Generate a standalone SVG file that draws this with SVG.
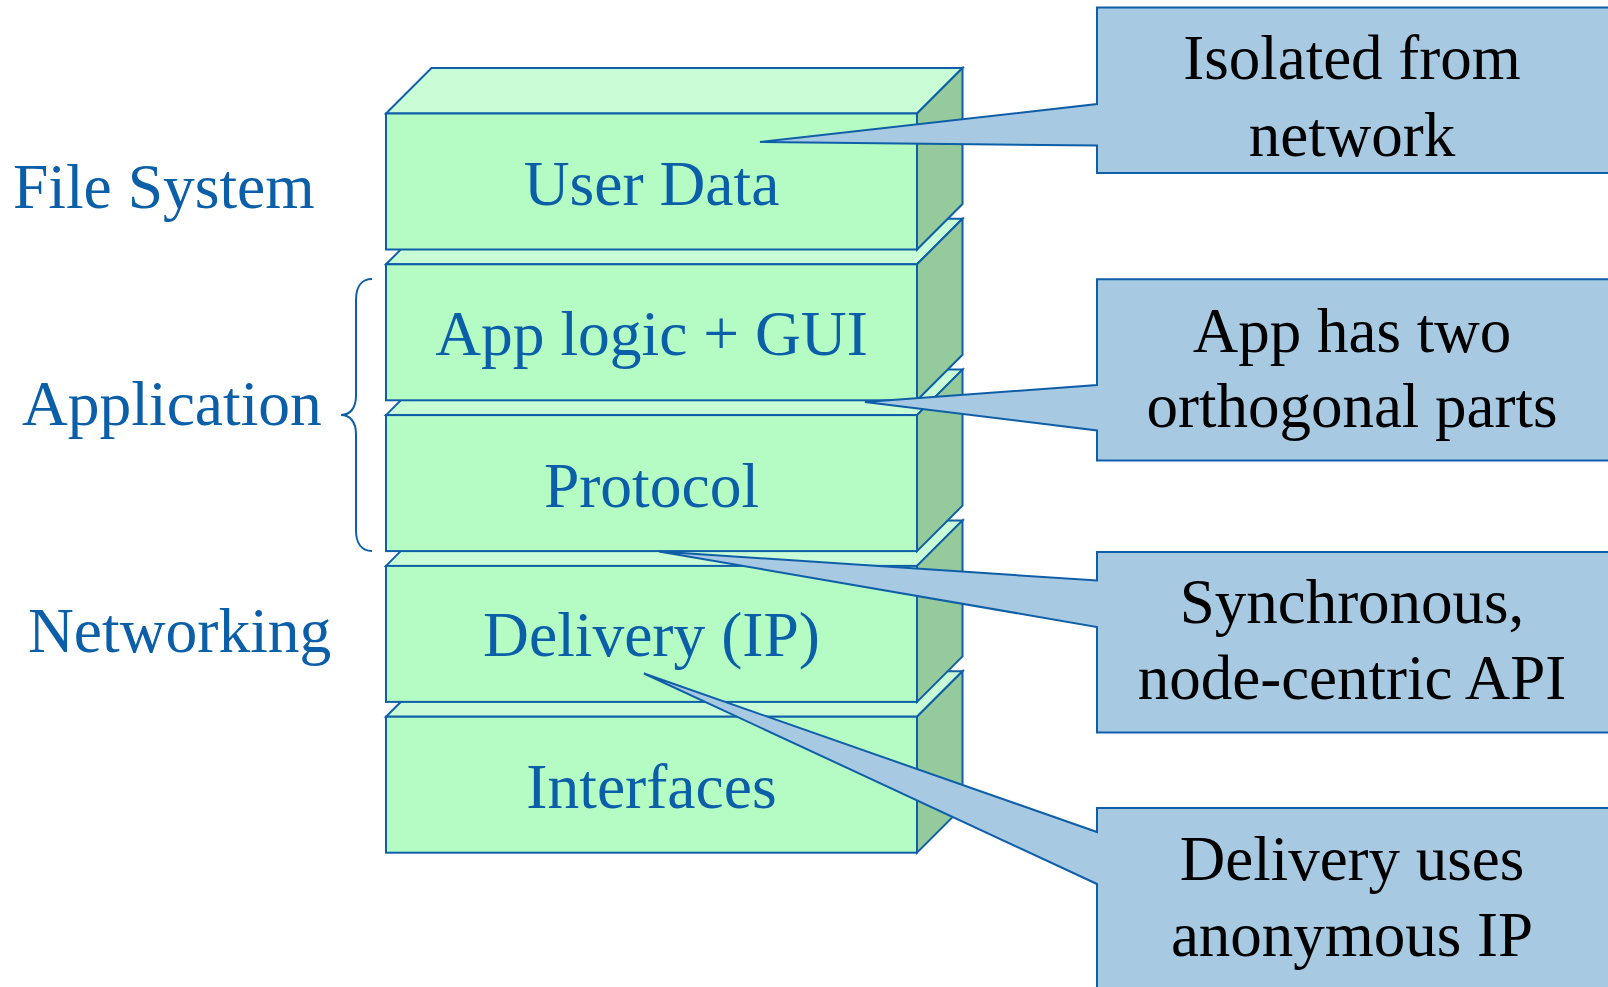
<svg xmlns="http://www.w3.org/2000/svg" width="1608" height="987" viewBox="0 0 1608 987">
<style>
.front{fill:#b5fcc4;stroke:#0f5fa8;stroke-width:2;stroke-linejoin:miter}
.top{fill:#c8fdd5;stroke:#0f5fa8;stroke-width:2}
.side{fill:#95ca9c;stroke:#0f5fa8;stroke-width:2}
.lbl{font-family:"Liberation Serif","Times New Roman",serif;font-size:63.5px;fill:#0b5fa8}
.ctext{font-family:"Liberation Serif","Times New Roman",serif;font-size:63px;fill:#000;text-anchor:middle}
.mid{text-anchor:middle}
.callout{fill:#a7c9e2;stroke:#0f5fa8;stroke-width:2;stroke-linejoin:miter}
.brace{fill:none;stroke:#0f5fa8;stroke-width:2}
</style>
<rect width="1608" height="987" fill="#fff"/>

<g id="layer-interfaces">
<polygon class="top" points="386,716.7 431.5,671.2 962.5,671.2 917,716.7"/>
<polygon class="side" points="917,716.7 962.5,671.2 962.5,807.2 917,852.7"/>
<rect class="front" x="386" y="716.7" width="531" height="136"/>
<text class="lbl mid" x="651.5" y="808">Interfaces</text>
</g>
<g id="layer-delivery">
<polygon class="top" points="386,565.9 431.5,520.4 962.5,520.4 917,565.9"/>
<polygon class="side" points="917,565.9 962.5,520.4 962.5,656.4 917,701.9"/>
<rect class="front" x="386" y="565.9" width="531" height="136"/>
<text class="lbl mid" x="651.5" y="656">Delivery (IP)</text>
</g>
<g id="layer-protocol">
<polygon class="top" points="386,415.1 431.5,369.6 962.5,369.6 917,415.1"/>
<polygon class="side" points="917,415.1 962.5,369.6 962.5,505.6 917,551.1"/>
<rect class="front" x="386" y="415.1" width="531" height="136"/>
<text class="lbl mid" x="651.5" y="506.5">Protocol</text>
</g>
<g id="layer-app">
<polygon class="top" points="386,264.3 431.5,218.8 962.5,218.8 917,264.3"/>
<polygon class="side" points="917,264.3 962.5,218.8 962.5,354.8 917,400.3"/>
<rect class="front" x="386" y="264.3" width="531" height="136"/>
<text class="lbl mid" x="651.5" y="354.5">App logic + GUI</text>
</g>
<g id="layer-userdata">
<polygon class="top" points="386,113.5 431.5,68 962.5,68 917,113.5"/>
<polygon class="side" points="917,113.5 962.5,68 962.5,204 917,249.5"/>
<rect class="front" x="386" y="113.5" width="531" height="136"/>
<text class="lbl mid" x="651.5" y="204.5">User Data</text>
</g>

<g id="side-labels">
<text class="lbl" x="13" y="208.3">File System</text>
<text class="lbl" x="22" y="425">Application</text>
<text class="lbl" x="28" y="651.7">Networking</text>
<path class="brace" d="M372,279 C362,279 356,286 356,300 L356,396 C356,408 350,415 341,415 C350,415 356,422 356,434 L356,530 C356,544 362,551 372,551"/>
</g>

<g id="connectors">
<g id="callout-isolated">
<path class="callout" d="M1097,7.5 H1620 V173 H1097 V145.5 L760,142 L1097,104 Z"/>
<text class="ctext" x="1352" y="79">Isolated from</text>
<text class="ctext" x="1352" y="156">network</text>
</g>
<g id="callout-app">
<path class="callout" d="M1097,279.3 H1620 V460.5 H1097 V430.5 L865,402 L1097,385 Z"/>
<text class="ctext" x="1352" y="351.7">App has two</text>
<text class="ctext" x="1352" y="426.7">orthogonal parts</text>
</g>
<g id="callout-sync">
<path class="callout" d="M1097,552 H1620 V732.5 H1097 V627 L659,551.5 L1097,580.5 Z"/>
<text class="ctext" x="1352" y="623.3">Synchronous,</text>
<text class="ctext" x="1352" y="699.3">node-centric API</text>
</g>
<g id="callout-delivery">
<path class="callout" d="M1097,808 H1620 V1000 H1097 V884 L644,673.5 L1097,832 Z"/>
<text class="ctext" x="1352" y="880">Delivery uses</text>
<text class="ctext" x="1352" y="956">anonymous IP</text>
</g>
</g>
</svg>
